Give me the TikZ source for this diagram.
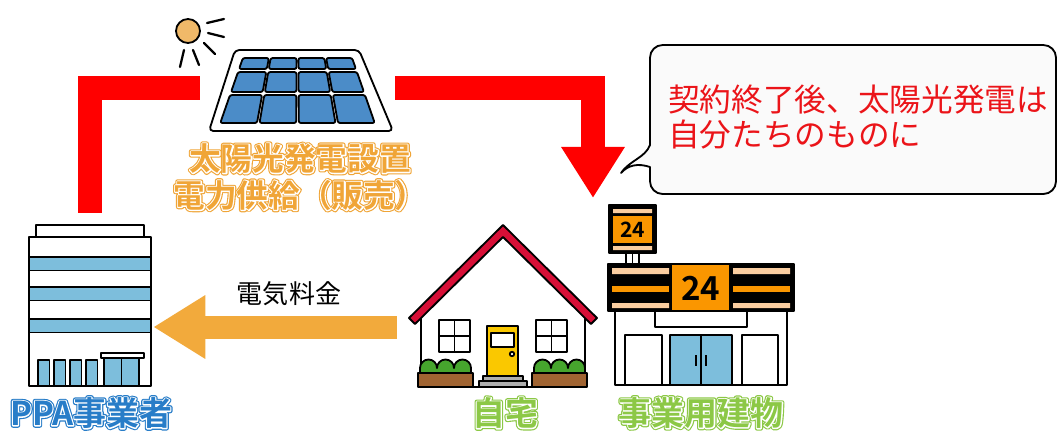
\documentclass[tikz,border=0pt]{standalone}
\usepackage{fontspec}
\setmainfont{Noto Sans CJK JP}[BoldFont={Noto Sans CJK JP Bold}]
\newfontfamily\lblfont{Noto Sans CJK JP Bold}
\newfontfamily\lblfontA{Noto Sans CJK JP Bold}[FakeBold=14]
\newfontfamily\lblfontB{Noto Sans CJK JP Bold}[FakeBold=7]
\usetikzlibrary{arrows.meta, positioning}

\definecolor{powerred}{RGB}{255,0,0}
\definecolor{feeorange}{RGB}{242,170,60}
\definecolor{solarorange}{RGB}{240,165,55}
\definecolor{ppablue}{RGB}{40,125,200}
\definecolor{homegreen}{RGB}{140,200,70}
\definecolor{cellblue}{RGB}{75,140,200}
\definecolor{glassblue}{RGB}{125,190,220}
\definecolor{roofred}{RGB}{215,15,55}
\definecolor{dooryellow}{RGB}{250,200,0}
\definecolor{bushgreen}{RGB}{70,165,45}
\definecolor{soilbrown}{RGB}{160,100,50}
\definecolor{stepgray}{RGB}{175,175,175}
\definecolor{signorange}{RGB}{250,150,0}
\definecolor{peach}{RGB}{250,205,160}
\definecolor{sunorange}{RGB}{240,185,105}
\definecolor{bubblefill}{RGB}{250,250,250}
\definecolor{msgred}{RGB}{235,20,25}

% coloured label with a white rim and a coloured edge
\newcommand\rimtext[2]{\rlap{\color{#1}\lblfontA #2}\rlap{\color{white}\lblfontB #2}{\color{#1}\lblfont #2}}

\begin{document}
\begin{tikzpicture}[x=0.025cm, y=-0.025cm, line join=round,
    outline/.style = { draw = black, line width = 1.3pt },
    spot/.style = { inner sep = 0pt, minimum width = #1 },
    powerline/.style = { draw = powerred, line width = 0.6cm, line join = miter },
    feearrow/.style = { draw = feeorange, line width = 0.575cm,
      -{Triangle[width = 1.5cm, length = 1.3cm]} },
    cell/.style = { outline, fill = cellblue, rounded corners = 1.5pt },
    lbl/.style = { inner sep = 0pt, font = \fontsize{23.4}{28}\selectfont },
    declare function = { px(\u,\v) = 242-23*(\v-58)/65+\u*(111+46*(\v-58)/65); }]
  \useasboundingbox[fill = white] (0,0) rectangle (1059,430);

  \node[spot = 3.15cm, minimum height = 5.7cm] (ppa) at (90,327) {};
  \node[spot = 4.875cm, minimum height = 2.2cm] (panel) at (297.5,88) {};
  \node[spot = 5.3cm, minimum height = 4cm] (house) at (503,327) {};
  \node[spot = 4.6cm, minimum height = 4.5cm] (store) at (701,295) {};
  \coordinate (sold) at (593,198);

  % power supply and fee
  \draw[powerline] (ppa.north) |- (panel.west);
  \draw[powerline, -{Triangle[width = 1.5cm, length = 1.275cm]}] (panel.east) -| (sold);
  \draw[feearrow] (house.west) -- (ppa.east);
  \node[inner sep = 0pt, font = \fontsize{18.5}{22}\selectfont] (fee) at (289,294) {電気料金};

  % sun
  \filldraw[outline, fill = sunorange] (188,31) circle (12);
  \draw[line width = 1.6pt, line cap = round]
    (207,23) -- (224,19) (208,33) -- (224,37) (204,43) -- (215,54)
    (193,50) -- (199,65) (184,50) -- (180,67);

  % solar panel
  \filldraw[outline, fill = white, rounded corners = 3pt]
    (235,50) -- (359,50) -- (393,131) -- (209,131) -- cycle;
  \foreach \ya/\yb in {58/69, 72/92, 95/123}
    \foreach \j in {0,...,3}
      \filldraw[cell] ({px(\j/4+0.008,\ya)},\ya) -- ({px(\j/4+0.242,\ya)},\ya)
        -- ({px(\j/4+0.242,\yb)},\yb) -- ({px(\j/4+0.008,\yb)},\yb) -- cycle;
  \node[lbl, align = center, font = \fontsize{22.5}{26.2}\selectfont] (solar) at (300,177)
    {\rimtext{solarorange}{太陽光発電設置}\\\rimtext{solarorange}{電力供給（販売）}};

  % PPA office building
  \filldraw[outline, fill = white] (36,225) rectangle (144,237);
  \filldraw[outline, fill = white] (29,237) rectangle (151,386);
  \foreach \y in {257, 287, 319}
    \filldraw[outline, fill = glassblue] (29,\y) rectangle (151,\y+13.5);
  \foreach \x in {38, 54, 70, 86}
    \filldraw[outline, fill = glassblue] (\x,360) rectangle (\x+11.5,386);
  \filldraw[outline, fill = white] (101,353) rectangle (144,358);
  \filldraw[outline, fill = glassblue] (104,358) rectangle (139,386);
  \draw[outline] (121.5,358) -- (121.5,386);
  \node[lbl] (ppalabel) at (91,413) {\rimtext{ppablue}{PPA事業者}};

  % house
  \filldraw[outline, fill = white] (421,387) -- (421,316) -- (503,234) -- (585,316) -- (585,387) -- cycle;
  \filldraw[outline, fill = roofred]
    (409,318) -- (503,225) -- (597,318) -- (591,324) -- (503,237) -- (415,324) -- cycle;
  \foreach \x in {439, 536} {
    \filldraw[outline, fill = white] (\x,320) rectangle (\x+31,352);
    \draw[outline] (\x+15.5,320) -- (\x+15.5,352) (\x,336) -- (\x+31,336);
  }
  \filldraw[outline, fill = dooryellow] (487,326) rectangle (518,376);
  \filldraw[outline, fill = white] (491,333) rectangle (514,347);
  \draw[outline, fill = white] (512,354) circle (2.2);
  \filldraw[outline, fill = stepgray] (483,376) rectangle (523,381);
  \filldraw[outline, fill = stepgray] (479,381) rectangle (527,387);
  \foreach \x in {418, 532} {
    \filldraw[outline, fill = bushgreen] (\x+2,374) -- (\x+2,368)
      arc (180:360:8.5) arc (180:360:8.5) arc (180:360:8.5) -- (\x+53,374) -- cycle;
    \filldraw[outline, fill = soilbrown] (\x,373) rectangle (\x+55,387);
  }
  \node[lbl] (homelabel) at (505,413) {\rimtext{homegreen}{自宅}};

  % convenience store
  \filldraw[outline, fill = black] (609,205) rectangle (656,253);
  \fill[peach] (613,209) rectangle (652,213) (613,246) rectangle (652,250);
  \fill[signorange] (613,216) rectangle (652,243);
  \node[inner sep = 0pt, font = \lblfont\fontsize{15}{18}\selectfont] (signno) at (632.5,229.5) {24};
  \filldraw[outline, fill = white] (626,253) rectangle (639,264);
  \draw[outline] (632.5,253) -- (632.5,264);
  \filldraw[outline, fill = white] (615,311) rectangle (787,385);
  \draw[outline] (655,311) rectangle (747,327);
  \filldraw[outline, fill = white] (625,335) rectangle (662,385);
  \filldraw[outline, fill = glassblue] (670,335) rectangle (732,385);
  \draw[outline] (701,335) -- (701,385) (696,355) -- (696,366) (706,355) -- (706,366);
  \filldraw[outline, fill = white] (742,335) rectangle (778,385);
  \filldraw[outline, fill = black] (608,264) rectangle (794,311);
  \foreach \x in {612, 733} {
    \fill[peach] (\x,268) rectangle (\x+57,274) (\x,303) rectangle (\x+57,308);
    \fill[signorange] (\x,286) rectangle (\x+57,292);
  }
  \filldraw[outline, fill = signorange] (671,264) rectangle (730,311);
  \node[inner sep = 0pt, font = \lblfont\fontsize{23.5}{28}\selectfont] (shopno) at (700.5,288) {24};
  \node[lbl] (storelabel) at (701,413) {\rimtext{homegreen}{事業用建物}};

  % speech bubble
  \filldraw[outline, fill = bubblefill] (650,145) [rounded corners = 9pt] -- (650,45) -- (1056,45)
    -- (1056,194) -- (650,194) [sharp corners] -- (650,167)
    .. controls (638,163) and (628,165) .. (621,173)
    .. controls (630,160) and (645,158) .. (650,145) -- cycle;
  \node[anchor = west, align = left, inner sep = 0pt, text = msgred,
    font = \fontsize{22.5}{24.8}\selectfont] (msg) at (668,117)
    {契約終了後、太陽光発電は\\自分たちのものに};
\end{tikzpicture}
\end{document}
